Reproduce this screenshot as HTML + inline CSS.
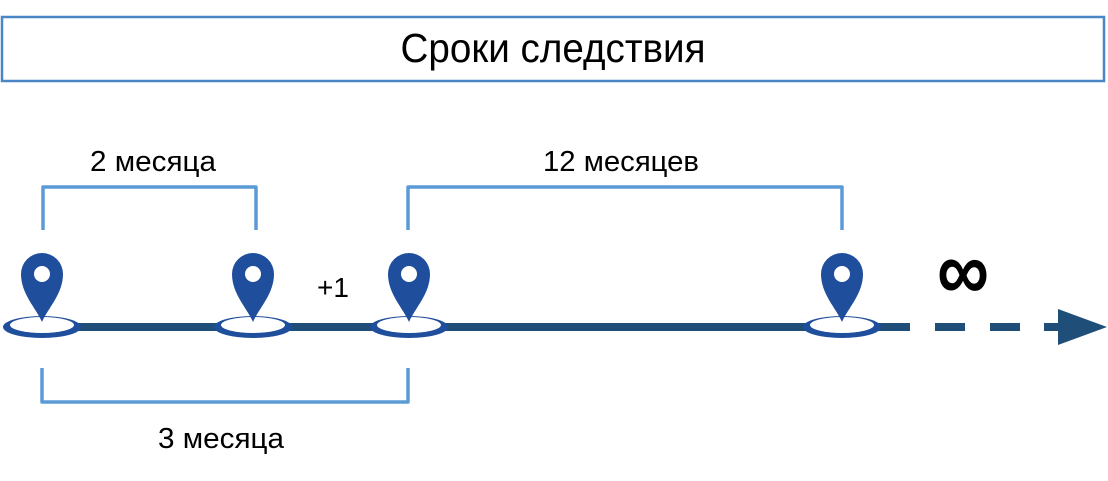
<!DOCTYPE html>
<html><head><meta charset="utf-8"><style>
html,body{margin:0;padding:0;background:#fff;}
svg{display:block;}
text{font-family:"Liberation Sans","DejaVu Sans",sans-serif;fill:#000;}
</style></head><body>
<svg width="1108" height="481" viewBox="0 0 1108 481" xmlns="http://www.w3.org/2000/svg">
<rect x="2" y="17" width="1102" height="64" fill="#fff" stroke="#4a86c5" stroke-width="2.5"/>
<text x="553" y="62" font-size="41" text-anchor="middle" textLength="305" lengthAdjust="spacingAndGlyphs">Сроки следствия</text>

<g fill="none" stroke="#5b9bd5" stroke-width="3.5" stroke-linejoin="round">
<path d="M43 230 V187 H256 V230"/>
<path d="M408 230 V187 H842 V230"/>
<path d="M42 368 V402 H408 V368"/>
</g>

<text x="153" y="171" font-size="29" text-anchor="middle" textLength="126" lengthAdjust="spacingAndGlyphs">2 месяца</text>
<text x="621" y="171" font-size="29" text-anchor="middle" textLength="156" lengthAdjust="spacingAndGlyphs">12 месяцев</text>
<text x="333" y="297" font-size="28" text-anchor="middle">+1</text>
<text x="221" y="448" font-size="29" text-anchor="middle" textLength="126" lengthAdjust="spacingAndGlyphs">3 месяца</text>
<text x="963" y="300" font-size="86" font-weight="bold" text-anchor="middle" textLength="52" lengthAdjust="spacingAndGlyphs">∞</text>

<line x1="42" y1="327" x2="910" y2="327" stroke="#1f4e79" stroke-width="8"/>
<g stroke="#1f4e79" stroke-width="8">
<line x1="935" y1="327" x2="965" y2="327"/>
<line x1="990" y1="327" x2="1020" y2="327"/>
<line x1="1044" y1="327" x2="1062" y2="327"/>
</g>
<polygon points="1058,309 1107,327 1058,345" fill="#1f4e79"/>

<defs>
<g id="pin">
<ellipse cx="0" cy="327" rx="39" ry="11" fill="#1f4e9c"/>
<ellipse cx="0" cy="325" rx="32" ry="8" fill="#fff"/>
<path d="M0 322 C-6 308 -21 294 -21 274 A21 21 0 0 1 21 274 C21 294 6 308 0 322 Z" fill="#1f4e9c"/>
<circle cx="0" cy="274" r="8" fill="#fff"/>
</g>
</defs>
<use href="#pin" x="42"/>
<use href="#pin" x="253"/>
<use href="#pin" x="409"/>
<use href="#pin" x="842"/>
</svg>
</body></html>
